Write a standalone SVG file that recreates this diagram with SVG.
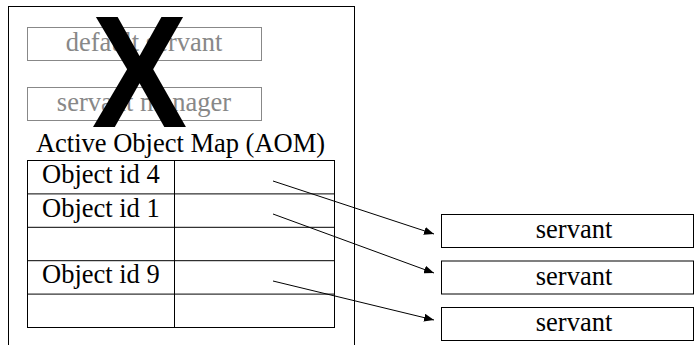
<svg xmlns="http://www.w3.org/2000/svg" width="694" height="345" viewBox="0 0 694 345">
<style>
.t{font-family:"Liberation Serif","Times New Roman",serif;font-size:26.5px;fill:#000}
.g{fill:#888}
.box{fill:#fff;stroke:#000;stroke-width:1}
.gbox{fill:none;stroke:#888;stroke-width:1}
.ln{stroke:#000;stroke-width:1;fill:none}
.c{stroke:#000;stroke-width:1;fill:none;marker-end:url(#ah)}
</style>
<defs>
<marker id="ah" markerWidth="10" markerHeight="8" refX="10" refY="4" orient="auto" markerUnits="userSpaceOnUse">
<path d="M0,0 L10,4 L0,8 Z" fill="#000"/>
</marker>
</defs>
<rect width="694" height="345" fill="#fff"/>
<g id="poa">
<rect x="8.5" y="6.5" width="346" height="350" class="box"/>
</g>
<g id="default-servant">
<rect x="27.5" y="27.5" width="234" height="33" class="gbox"/>
<text x="144" y="51" text-anchor="middle" class="t g">default servant</text>
</g>
<g id="servant-manager">
<rect x="27.5" y="87.5" width="234" height="33" class="gbox"/>
<text x="144" y="111" text-anchor="middle" class="t g">servant manager</text>
</g>
<g id="cross">
<text x="0" y="0" transform="translate(139.5,127) scale(0.9,1)" text-anchor="middle" style="font-family:'Liberation Sans',Arial,sans-serif;font-size:159px;font-weight:bold;fill:#000">X</text>
</g>
<g id="aom-label">
<text x="180.5" y="152" text-anchor="middle" class="t">Active Object Map (AOM)</text>
</g>
<g id="aom">
<rect x="27.5" y="160.5" width="307" height="167" class="box"/>
<line x1="174.5" y1="160.5" x2="174.5" y2="327.5" class="ln"/>
<line x1="27.5" y1="193.9" x2="334.5" y2="193.9" class="ln"/>
<line x1="27.5" y1="227.3" x2="334.5" y2="227.3" class="ln"/>
<line x1="27.5" y1="260.7" x2="334.5" y2="260.7" class="ln"/>
<line x1="27.5" y1="294.1" x2="334.5" y2="294.1" class="ln"/>
<text x="42" y="183" class="t">Object id 4</text>
<text x="42" y="216.5" class="t">Object id 1</text>
<text x="42" y="283" class="t">Object id 9</text>
</g>
<g id="servant1">
<rect x="441.5" y="214.5" width="252" height="33" class="box"/>
<text x="574" y="238" text-anchor="middle" class="t">servant</text>
</g>
<g id="servant2">
<rect x="441.5" y="261" width="252" height="33" class="box"/>
<text x="574" y="284.5" text-anchor="middle" class="t">servant</text>
</g>
<g id="servant3">
<rect x="441.5" y="307.5" width="252" height="33" class="box"/>
<text x="574" y="331" text-anchor="middle" class="t">servant</text>
</g>
<g id="connectors">
<line x1="273" y1="181" x2="434" y2="234" class="c"/>
<line x1="273" y1="214" x2="434" y2="273" class="c"/>
<line x1="273" y1="281" x2="434" y2="320" class="c"/>
</g>
</svg>
